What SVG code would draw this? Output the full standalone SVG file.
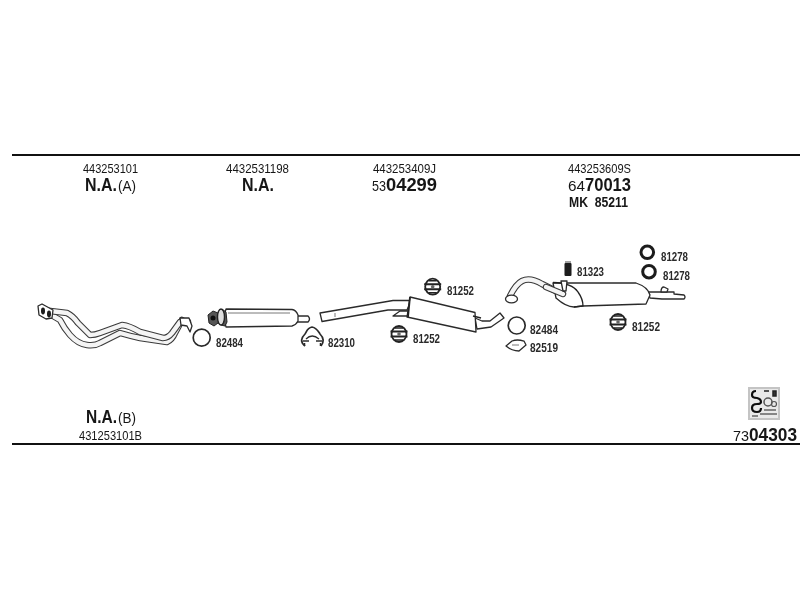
<svg xmlns="http://www.w3.org/2000/svg" width="800" height="600" viewBox="0 0 800 600">
<style>
text{font-family:"Liberation Sans",Arial,sans-serif;fill:#151515;lengthAdjust:spacingAndGlyphs}
.pn{font-size:13.5px}
.big{font-size:18px;font-weight:700}
.mid{font-size:14px}
.sm{font-size:12px;font-weight:700;fill:#2a2a2a}
.rule{stroke:#111;stroke-width:2;fill:none}
.o{fill:#fff;stroke:#2b2b2b;stroke-width:1.3;stroke-linejoin:round}
.thin{fill:none;stroke:#555;stroke-width:.8}
.ring{fill:none;stroke:#2b2b2b;stroke-width:1.7}
.tkd{fill:none;stroke-width:6.5;stroke:#3a3a3a;stroke-linecap:round;stroke-linejoin:round}
.tkw{fill:none;stroke-width:4.4;stroke:#f4f4f4;stroke-linecap:round;stroke-linejoin:round}
.blk{fill:#1c1c1c}
</style>
<defs>
<filter id="soft" x="-5%" y="-5%" width="110%" height="110%"><feGaussianBlur stdDeviation="0.35"/></filter>
<g id="hanger">
<ellipse cx="0" cy="0" rx="7.5" ry="8" fill="#fff" stroke="#222" stroke-width="1.8"/>
<path d="M-8.5,-2.5 L8.5,-2.5 M-8.5,2.5 L8.5,2.5" stroke="#222" stroke-width="2"/>
<path d="M-4,-6 H4 M-4,6 H4" stroke="#222" stroke-width="1.6"/>
<circle r="1.8" fill="#666"/>
</g>
</defs>
<rect width="800" height="600" fill="#fff"/>
<g id="rules">
<path class="rule" d="M12,155 H800"/>
<path class="rule" d="M12,444 H800"/>
</g>
<g id="labels" filter="url(#soft)">
<text class="pn" x="83" y="172.5" textLength="55" lengthAdjust="spacingAndGlyphs">443253101</text>
<text class="big" x="85" y="190.5" textLength="32" lengthAdjust="spacingAndGlyphs">N.A.</text>
<text class="mid" x="118" y="190.5" textLength="18" lengthAdjust="spacingAndGlyphs">(A)</text>
<text class="pn" x="226" y="172.5" textLength="63" lengthAdjust="spacingAndGlyphs">4432531198</text>
<text class="big" x="242" y="190.5" textLength="32" lengthAdjust="spacingAndGlyphs">N.A.</text>
<text class="pn" x="373" y="172.5" textLength="63" lengthAdjust="spacingAndGlyphs">443253409J</text>
<text class="mid" x="372" y="190.5" textLength="14" lengthAdjust="spacingAndGlyphs">53</text>
<text class="big" x="386" y="190.5" textLength="51" lengthAdjust="spacingAndGlyphs">04299</text>
<text class="pn" x="568" y="172.5" textLength="63" lengthAdjust="spacingAndGlyphs">443253609S</text>
<text class="mid" x="568" y="190.5" textLength="17" lengthAdjust="spacingAndGlyphs">64</text>
<text class="big" x="585" y="190.5" textLength="46" lengthAdjust="spacingAndGlyphs">70013</text>
<text x="569" y="206.5" font-size="14" font-weight="700" textLength="59" lengthAdjust="spacingAndGlyphs" xml:space="preserve">MK  85211</text>
<text class="big" x="86" y="423" textLength="31" lengthAdjust="spacingAndGlyphs">N.A.</text>
<text class="mid" x="118" y="423" textLength="18" lengthAdjust="spacingAndGlyphs">(B)</text>
<text class="pn" x="79" y="440" textLength="63" lengthAdjust="spacingAndGlyphs">431253101B</text>
<text class="mid" x="733" y="441" textLength="16" lengthAdjust="spacingAndGlyphs">73</text>
<text class="big" x="749" y="441" textLength="48" lengthAdjust="spacingAndGlyphs">04303</text>
<text class="sm" x="216" y="346.5" textLength="27" lengthAdjust="spacingAndGlyphs">82484</text>
<text class="sm" x="328" y="346.5" textLength="27" lengthAdjust="spacingAndGlyphs">82310</text>
<text class="sm" x="447" y="295" textLength="27" lengthAdjust="spacingAndGlyphs">81252</text>
<text class="sm" x="413" y="342.5" textLength="27" lengthAdjust="spacingAndGlyphs">81252</text>
<text class="sm" x="530" y="334" textLength="28" lengthAdjust="spacingAndGlyphs">82484</text>
<text class="sm" x="530" y="352" textLength="28" lengthAdjust="spacingAndGlyphs">82519</text>
<text class="sm" x="577" y="275.5" textLength="27" lengthAdjust="spacingAndGlyphs">81323</text>
<text class="sm" x="661" y="260.5" textLength="27" lengthAdjust="spacingAndGlyphs">81278</text>
<text class="sm" x="663" y="280" textLength="27" lengthAdjust="spacingAndGlyphs">81278</text>
<text class="sm" x="632" y="331" textLength="28" lengthAdjust="spacingAndGlyphs">81252</text>
</g>
<g id="parts" filter="url(#soft)">
<g id="front-pipe">
<path class="tkd" d="M48,313 L60,320 Q64,328 70,335 Q78,344 87,345 Q95,346 100,343 L120,333 Q130,336 140,338 L167,342 Q172,340 175,333 L182,320"/>
<path class="tkw" d="M48,313 L60,320 Q64,328 70,335 Q78,344 87,345 Q95,346 100,343 L120,333 Q130,336 140,338 L167,342 Q172,340 175,333 L182,320"/>
<path class="tkd" d="M42,310 L67,313 Q73,316 78,323 L90,335 Q95,335 100,333 L122,325 Q130,326 140,332 L163,338 Q168,338 172,333 L180,322 L188,322"/>
<path class="tkw" d="M42,310 L67,313 Q73,316 78,323 L90,335 Q95,335 100,333 L122,325 Q130,326 140,332 L163,338 Q168,338 172,333 L180,322 L188,322"/>
<path class="o" d="M38,306 L42,304 L53,310 L52,318 L46,319 L39,315 Z"/>
<ellipse class="blk" cx="43" cy="311" rx="2" ry="3.4"/>
<ellipse class="blk" cx="49" cy="314" rx="2" ry="3.4"/>
<path class="o" d="M180,318 L189,318 L192,326 L190,332 L187,326 L181,325 Z"/>
</g>
<g id="ring-82484-a"><circle class="ring" cx="201.7" cy="337.7" r="8.5"/></g>
<g id="front-muffler">
<path class="o" d="M296,316 L308,316 Q311,319 308,322 L296,322 Z"/>
<path class="o" d="M226,309 L292,309.5 Q296,310 298,315 L298,321 Q296,325 292,326 L226,327 Q223,318 226,309 Z" stroke-width="1.6"/>
<path class="thin" d="M228,313 L290,313"/>
<path d="M208,315 L213,311 L218,313 L222,309 L226,312 L227,322 L225,326 L221,325 L218,323 L214,326 L209,323 Z" fill="#555" stroke="#222" stroke-width="1"/>
<ellipse cx="221" cy="317" rx="3.5" ry="8" fill="#ddd" stroke="#222" stroke-width="1.4"/>
<circle cx="213" cy="318" r="2.5" fill="#111"/>
</g>
<g id="clamp-82310">
<path class="o" fill-opacity="0" d="M305,346 C300,342 301,338 305,334 C307,331 307,328 312,327 C317,328 318,331 320,334 C324,338 324,342 321,346" style="fill:none;stroke-width:1.7"/>
<path d="M306,339 Q312,333 319,339" fill="none" stroke="#2b2b2b" stroke-width="1.2"/>
<path d="M303,341 H309 M316,341 H322 M304.500,346 V343 M320.500,346 V343" stroke="#2b2b2b" stroke-width="1.5"/>
</g>
<g id="center-muffler">
<path class="o" d="M320,313 L393,300.500 L411,300.500 L407,310 L388,310 L322,321.500 Z"/>
<path class="thin" d="M335,313 V317"/>
<path class="o" d="M393,316 L400,311 L408,311 L408,316 Z"/>
<path class="o" d="M475,318 L482,321 L490,321 L500,313 L504,318 L491,327 L477,329 Z"/>
<path class="o" d="M410,297 L475,312.500 L476,332 L407,317 Z" stroke-width="1.7"/>
<path d="M473,316 L481,318" stroke="#222" stroke-width="1.5"/>
<path d="M410,297 L408,317" stroke="#222" stroke-width="1.8"/>
</g>
<g id="hanger-81252-a"><use href="#hanger" x="432.700" y="286.700"/></g>
<g id="hanger-81252-b"><use href="#hanger" x="399" y="334"/></g>
<g id="ring-82484-b"><circle class="ring" cx="516.700" cy="325.500" r="8.500"/></g>
<g id="gasket-82519">
<path class="o" d="M506,346 L512,341 Q517,339 524,341 L526,345 L519,351 Q512,351 506,346 Z" stroke-width="1"/>
<path class="thin" d="M512,345 L519,345"/>
</g>
<g id="rear-muffler">
<path class="o" d="M648,292 L674,292 L674,294 L684,295 Q686,297 684,299 L662,299 L650,298 Z" stroke-width="1.100"/>
<path class="o" d="M661,292 Q661,287 664,287 L668,289 L667,292 Z" stroke-width="1.100"/>
<path class="tkd" d="M510,296 Q516,284 522,281 Q530,277 542,284 L562,294"/>
<path class="tkw" d="M510,296 Q516,284 522,281 Q530,277 542,284 L562,294"/>
<path class="o" d="M553,283 L636,283 Q648,287 650,295 L646,304 L583,306 L574,307 Q566,307 556,298 Z" stroke-width="1.500"/>
<path d="M553,282.500 Q572,283 578,292 Q583,299 583,306 L574,307" fill="none" stroke="#222" stroke-width="1.300"/>
<path class="tkd" d="M546,287 L563,294" stroke-width="5"/>
<path class="tkw" d="M546,287 L563,294" stroke-width="3"/>
<path class="o" d="M561,281 L567,281 L566,291 L563,291 Z" stroke-width="1"/>
<ellipse class="o" cx="511.500" cy="299" rx="6" ry="3.800"/>
</g>
<g id="grommet-81323">
<rect class="blk" x="564.500" y="263" width="7" height="13" rx="1"/>
<path d="M565,262 H571" stroke="#666" stroke-width="1.200"/>
</g>
<g id="ring-81278-a"><circle cx="647.300" cy="252.300" r="6.300" fill="none" stroke="#1c1c1c" stroke-width="3"/></g>
<g id="ring-81278-b"><circle cx="649" cy="271.700" r="6.300" fill="none" stroke="#1c1c1c" stroke-width="3"/></g>
<g id="hanger-81252-c"><use href="#hanger" x="618" y="322"/></g>
<g id="kit-icon">
<rect x="748" y="387" width="32" height="33" fill="#c4c4c4"/>
<rect x="750" y="389" width="28" height="29" fill="#e9e9e9"/>
<path d="M756,391 Q752,391 752,395 Q752,398 757,398 Q761,399 761,402 Q761,404 757,404 Q752,404 752,408 Q752,412 757,412 Q761,412 761,408" fill="none" stroke="#111" stroke-width="2.200"/>
<path d="M764,391 H769 M773,391 h3 v5 h-3 Z" stroke="#222" stroke-width="1.500" fill="#333"/>
<circle cx="768" cy="402" r="4" fill="none" stroke="#555" stroke-width="1.500"/>
<circle cx="774" cy="404" r="2.500" fill="none" stroke="#555" stroke-width="1.200"/>
<path d="M760,414 H777 M764,410 H776 M752,416 H758" stroke="#222" stroke-width="1.200"/>
</g>
</g>
</svg>
